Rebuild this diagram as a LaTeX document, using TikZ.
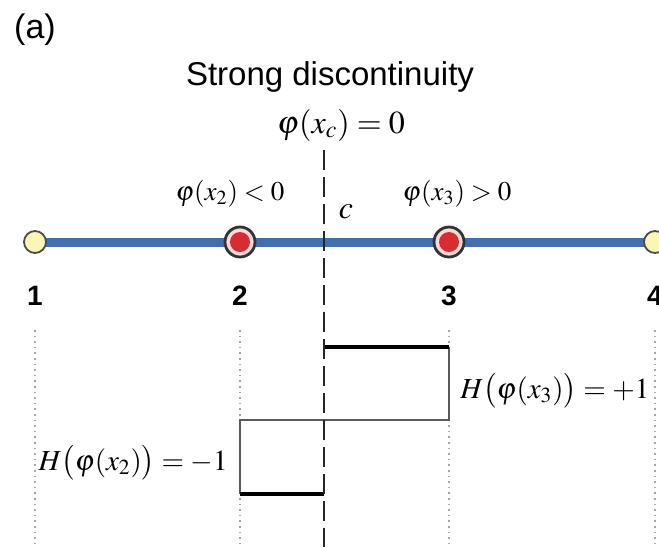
\documentclass[tikz,border=0pt]{standalone}
\usepackage{mathptmx}
\usepackage{fontspec}
\setsansfont{Liberation Sans}
\usetikzlibrary{positioning, backgrounds}
\definecolor{barblue}{RGB}{66,112,172}
\definecolor{enrred}{RGB}{215,45,50}
\definecolor{stdyel}{RGB}{250,246,182}
\begin{document}
\begin{tikzpicture}[x=0.5pt, y=-0.5pt,
		stdnode/.style={circle, draw=black!70, fill=stdyel, line width=0.9pt,
			minimum size=11pt, inner sep=0pt},
		enrnode/.style={circle, draw=black!80, fill=white!85!red, line width=1.4pt,
			minimum size=15pt, inner sep=0pt,
			path picture={\fill[enrred] (path picture bounding box.center) circle (5pt);}},
		numlbl/.style={font=\sffamily\bfseries\fontsize{14}{16}\selectfont, anchor=base},
		mathlbl/.style={font=\fontsize{13.5}{16}\selectfont, anchor=base, inner sep=0pt},
		guide/.style={gray!70, dotted, line width=0.8pt},
		heavi/.style={black!65, line width=1.1pt},
		jump/.style={black, line width=2pt},
		]
		\useasboundingbox (0,0) rectangle (659,547);
		
		\node[font=\sffamily\fontsize{17}{20}\selectfont] (tag) at (35,30) {(a)};
		\node[font=\sffamily\fontsize{16.5}{19}\selectfont, anchor=base] (title) at (330,85) {Strong discontinuity};
		\node[font=\fontsize{16}{19}\selectfont, anchor=base, inner sep=0pt] (phic) at (341,133) {$\varphi(x_c)=0$};
		
		\node[stdnode] (n1) at (35,242) {};
		\node[enrnode] (n2) at (240,242) {};
		\node[enrnode] (n3) at (449,242) {};
		\node[stdnode] (n4) at (655,242) {};
		
		\begin{scope}[on background layer]
			\draw[barblue, line width=4.5pt] (n1.center) -- (n4.center);
		\end{scope}
		
		\node[mathlbl] (phi2) at (230,200) {$\varphi(x_2)<0$};
		\node[mathlbl] (phi3) at (457,200) {$\varphi(x_3)>0$};
		\node[font=\fontsize{16}{19}\selectfont] (crack) at (346,212) {$c$};
		
		\node[numlbl] (l1) at (35,305) {1};
		\node[numlbl] (l2) at (240,305) {2};
		\node[numlbl] (l3) at (449,305) {3};
		\node[numlbl] (l4) at (655,305) {4};
		
		\foreach \gx in {35,240,449,655}
			\draw[guide] (\gx,330) -- (\gx,547);
		
		% Heaviside step
		\draw[heavi] (449,347) -- (449,420) -- (240,420) -- (240,494);
		\draw[jump] (324,347) -- (449,347);
		\draw[jump] (240,494) -- (324,494);
		\draw[black!85, line width=1.4pt, dash pattern=on 10pt off 3.5pt] (324,150) -- (324,547);
		
		\node[mathlbl, font=\fontsize{14.5}{17}\selectfont, anchor=base west] (hplus) at (460,398) {$H\bigl(\varphi(x_3)\bigr)=+1$};
		\node[mathlbl, font=\fontsize{14.5}{17}\selectfont, anchor=base east] (hminus) at (228,470) {$H\bigl(\varphi(x_2)\bigr)=-1$};
	\end{tikzpicture}
\end{document}
